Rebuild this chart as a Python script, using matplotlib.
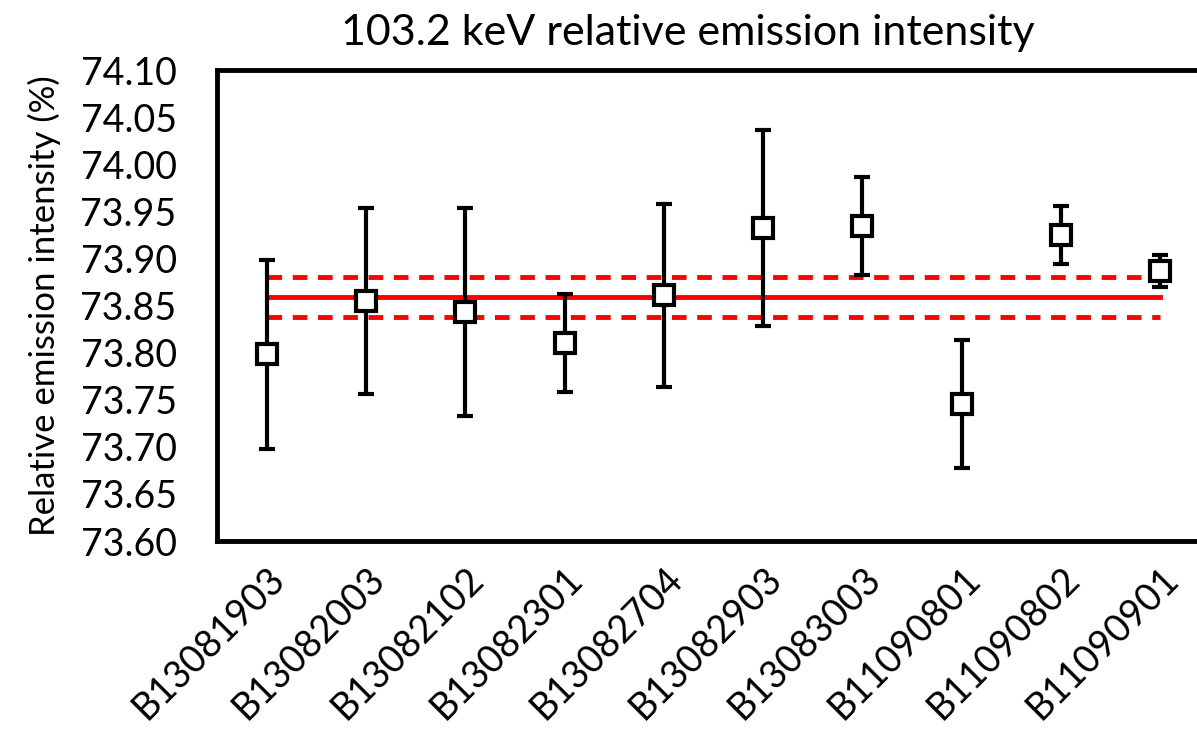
import matplotlib.pyplot as plt
import numpy as np

samples = ["B13081903", "B13082003", "B13082102", "B13082301", "B13082704",
           "B13082903", "B13083003", "B11090801", "B11090802", "B11090901"]
intensity = [73.798, 73.855, 73.843, 73.810, 73.861,
             73.932, 73.934, 73.745, 73.925, 73.887]
uncert = [0.100, 0.099, 0.110, 0.052, 0.097,
          0.104, 0.052, 0.068, 0.031, 0.017]
mean_val = 73.859
mean_unc = 0.021

plt.rcParams['font.family'] = ['Lato', 'DejaVu Sans']

fig = plt.figure(figsize=(11.97, 7.34), dpi=100)
ax = fig.add_axes([217 / 1197, 1 - 541 / 734, 993 / 1197, 471 / 734])

x = np.arange(len(samples))
ax.plot([x[0], x[-1]], [mean_val, mean_val], color='#ff0000', lw=3.5, zorder=1)
for s in (-1, 1):
    ax.plot([x[0], x[-1]], [mean_val + s * mean_unc] * 2, color='#ff0000',
            lw=3.5, ls=(0, (3, 2.2)), zorder=1)

ax.errorbar(x, intensity, yerr=uncert, fmt='s', ms=15, mfc='white', mec='black',
            mew=3, ecolor='black', elinewidth=3, capsize=6, capthick=3, zorder=3)

ax.set_xlim(-0.5, len(samples) - 0.5)
ax.set_ylim(73.60, 74.10)
ticks = np.arange(73.60, 74.1001, 0.05)
ax.set_yticks(ticks)
ax.set_yticklabels([f"{v:.2f}" for v in ticks], fontsize=27)
ax.set_xticks(x)
ax.set_xticklabels(samples, rotation=45, ha='right', rotation_mode='anchor', fontsize=27)
ax.tick_params(axis='y', length=0, pad=29)
ax.tick_params(axis='x', length=0, pad=14)
for sp in ax.spines.values():
    sp.set_linewidth(3.5)
ax.set_ylabel("Relative emission intensity (%)", fontsize=25, labelpad=14)

fig.text(688 / 1197, 1 - 33 / 734, "103.2 keV relative emission intensity",
         ha='center', va='center', fontsize=31)

fig.savefig("out.png", dpi=100)
